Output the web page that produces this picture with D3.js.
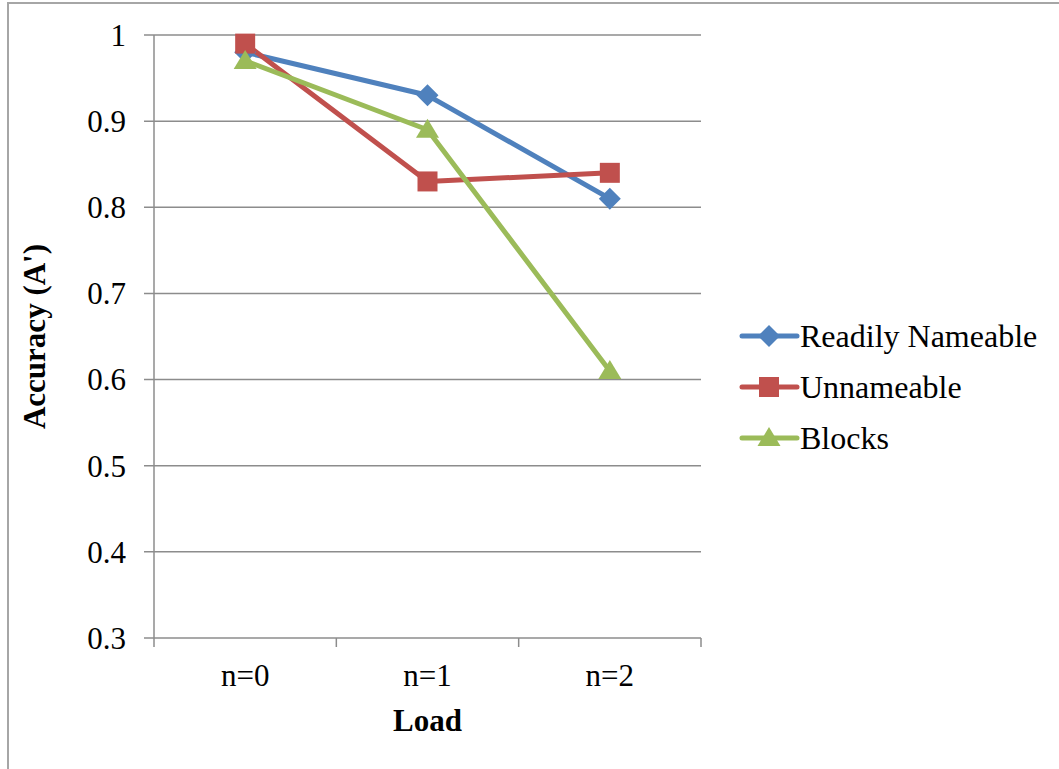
<!DOCTYPE html>
<html>
<head>
<meta charset="utf-8">
<script src="https://cdn.jsdelivr.net/npm/d3@7"></script>
<style>
  body { margin: 0; background: #fff; }
  svg { display: block; font-family: "Liberation Serif", "Times New Roman", serif; }
</style>
</head>
<body>
<div id="chart"></div>
<script>
var categories = ["n=0", "n=1", "n=2"];
var seriesNames = ["Readily Nameable", "Unnameable", "Blocks"];
var readilyNameable = [0.98, 0.93, 0.81];
var unnameable = [0.99, 0.83, 0.84];
var blocks = [0.97, 0.89, 0.61];
var yTicks = [0.3, 0.4, 0.5, 0.6, 0.7, 0.8, 0.9, 1];

var colors = ["#4F81BD", "#C0504D", "#9BBB59"];
var series = [readilyNameable, unnameable, blocks];

// excel-like marker shapes (size = half width)
var squareDiamond = {
    draw: function (ctx, r) {
        ctx.moveTo(0, -r); ctx.lineTo(r, 0); ctx.lineTo(0, r); ctx.lineTo(-r, 0); ctx.closePath();
    }
};
var square = {
    draw: function (ctx, r) { ctx.rect(-r, -r, 2 * r, 2 * r); }
};
var wideTriangle = {
    draw: function (ctx, r) {
        ctx.moveTo(0, -r * 0.95); ctx.lineTo(r, r * 0.7); ctx.lineTo(-r, r * 0.7); ctx.closePath();
    }
};
var symbols = [squareDiamond, square, wideTriangle];
var symSize = [11, 10, 11.5];

var width = 1059, height = 769;
var plotLeft = 154, plotRight = 701, plotTop = 35, plotBottom = 638;

var svg = d3.select("#chart").append("svg")
    .attr("width", width)
    .attr("height", height);

// outer frame
svg.append("rect")
    .attr("x", 8).attr("y", 3)
    .attr("width", 1100).attr("height", 900)
    .attr("fill", "none")
    .attr("stroke", "#a6a6a6")
    .attr("stroke-width", 2);

var x = d3.scaleBand().domain(categories).range([plotLeft, plotRight]);
var y = d3.scaleLinear().domain([0.3, 1]).range([plotBottom, plotTop]);

// gridlines
svg.append("g").selectAll("line")
    .data(yTicks)
    .enter().append("line")
    .attr("x1", plotLeft - 10).attr("x2", plotRight)
    .attr("y1", function (d) { return y(d); })
    .attr("y2", function (d) { return y(d); })
    .attr("stroke", "#8c8c8c")
    .attr("stroke-width", 1.5);

// y axis line
svg.append("line")
    .attr("x1", plotLeft).attr("x2", plotLeft)
    .attr("y1", plotTop).attr("y2", plotBottom + 9)
    .attr("stroke", "#8c8c8c").attr("stroke-width", 1.5);

// x ticks at band boundaries
var bounds = categories.map(function (c) { return x(c); }).concat([plotRight]);
svg.append("g").selectAll("line")
    .data(bounds.slice(1))
    .enter().append("line")
    .attr("x1", function (d) { return d; }).attr("x2", function (d) { return d; })
    .attr("y1", plotBottom).attr("y2", plotBottom + 9)
    .attr("stroke", "#8c8c8c").attr("stroke-width", 1.5);

// y tick labels
svg.append("g").selectAll("text")
    .data(yTicks)
    .enter().append("text")
    .attr("x", 126)
    .attr("y", function (d) { return y(d); })
    .attr("dy", "0.35em")
    .attr("text-anchor", "end")
    .attr("font-size", 31)
    .text(function (d) { return d; });

// x tick labels
svg.append("g").selectAll("text")
    .data(categories)
    .enter().append("text")
    .attr("x", function (d) { return x(d) + x.bandwidth() / 2; })
    .attr("y", 686)
    .attr("text-anchor", "middle")
    .attr("font-size", 31)
    .text(function (d) { return d; });

// axis titles
svg.append("text")
    .attr("x", (plotLeft + plotRight) / 2).attr("y", 731)
    .attr("text-anchor", "middle")
    .attr("font-size", 31).attr("font-weight", "bold")
    .text("Load");

svg.append("text")
    .attr("transform", "translate(45," + ((plotTop + plotBottom) / 2) + ") rotate(-90)")
    .attr("text-anchor", "middle")
    .attr("font-size", 31).attr("font-weight", "bold")
    .text("Accuracy (A')");

var line = d3.line()
    .x(function (d, i) { return x(categories[i]) + x.bandwidth() / 2; })
    .y(function (d) { return y(d); });

series.forEach(function (s, k) {
    svg.append("path")
        .datum(s)
        .attr("d", line)
        .attr("fill", "none")
        .attr("stroke", colors[k])
        .attr("stroke-width", 5)
        .attr("stroke-linejoin", "round")
        .attr("stroke-linecap", "round");
});

function markerPath(k) {
    var p = d3.path();
    symbols[k].draw(p, symSize[k]);
    return p.toString();
}

series.forEach(function (s, k) {
    svg.append("g").selectAll("path")
        .data(s)
        .enter().append("path")
        .attr("transform", function (d, i) {
            return "translate(" + (x(categories[i]) + x.bandwidth() / 2) + "," + y(d) + ")";
        })
        .attr("d", markerPath(k))
        .attr("fill", colors[k]);
});

// legend
var legend = svg.append("g").selectAll("g")
    .data(seriesNames)
    .enter().append("g")
    .attr("transform", function (d, i) { return "translate(742," + (336 + i * 51) + ")"; });

legend.append("line")
    .attr("x1", 0).attr("x2", 55)
    .attr("stroke", function (d, i) { return colors[i]; })
    .attr("stroke-width", 5)
    .attr("stroke-linecap", "round");

legend.append("path")
    .attr("transform", "translate(27,0)")
    .attr("d", function (d, i) { return markerPath(i); })
    .attr("fill", function (d, i) { return colors[i]; });

legend.append("text")
    .attr("x", 58).attr("dy", "0.35em")
    .attr("font-size", 32)
    .text(function (d) { return d; });
</script>
</body>
</html>
